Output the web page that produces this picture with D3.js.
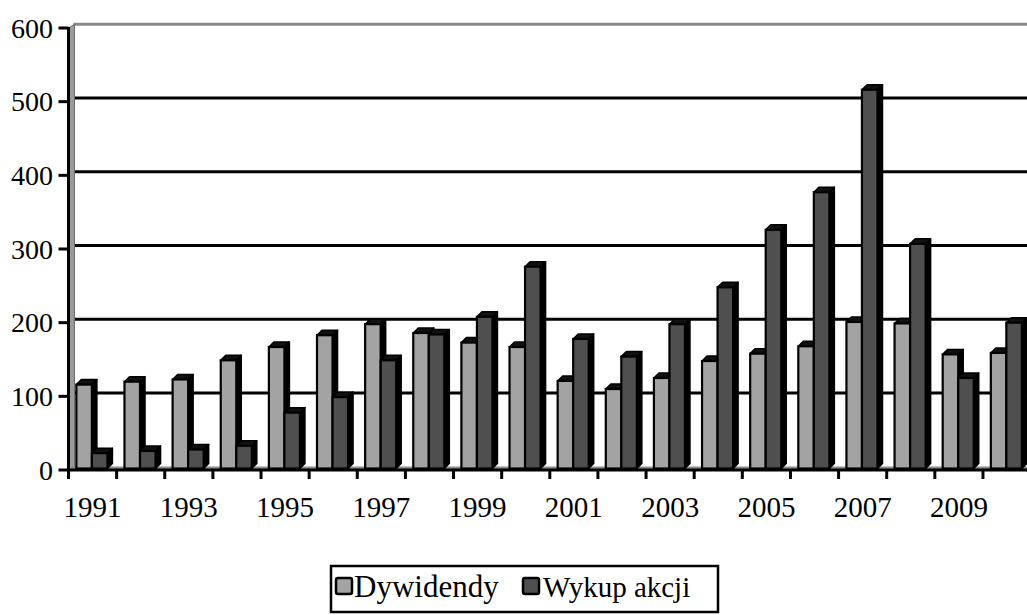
<!DOCTYPE html>
<html>
<head>
<meta charset="utf-8">
<script src="https://cdn.jsdelivr.net/npm/d3@7"></script>
<style>
  html, body { margin: 0; padding: 0; background: #fff; }
  svg { display: block; }
  text { font-family: "Liberation Serif", "Times New Roman", serif; fill: #000; }
</style>
</head>
<body>
<svg id="chart" width="1027" height="615"></svg>
<script>
// Years on the category axis
const years = ["1991","1992","1993","1994","1995","1996","1997","1998","1999","2000",
               "2001","2002","2003","2004","2005","2006","2007","2008","2009","2010"];
// Dividends paid out
const dywidendy = [118,122,125,151,169,185,200,188,175,169,
                   123,112,127,150,160,170,203,201,159,161];
// Share buybacks
const wykupAkcji = [25,28,30,35,80,101,151,186,210,278,
                    180,156,200,250,328,379,518,309,127,202];
// Value-axis ticks
const yTicks = [0,100,200,300,400,500,600];
// Series names and fills
const seriesNames = ["Dywidendy","Wykup akcji"];
const seriesColors = ["#a3a3a3","#4f4f4f"];

const svg = d3.select("#chart");

// Geometry of the pseudo-3D plot
const axisX = 68.5;          // front value axis
const wallDepth = 6;         // width of the left side wall
const step = 48.13;          // width of one year slot
const depthX = 5, depthY = 5;// depth of each column
const floorFront = 470, floorBack = 466.6;
const barBottom = 468.5;

const x = d3.scaleBand().domain(years)
  .range([axisX, axisX + step * years.length]).padding(0);
const xs = d3.scaleBand().domain(seriesNames)
  .range([0, x.bandwidth()]).paddingInner(0).paddingOuter(0.55).align(0.46);

// Front scale (axis ticks) and back-wall scale (gridlines, column tops)
const yFront = d3.scaleLinear().domain([0, 600]).range([floorFront, 28]);
const yBack = d3.scaleLinear().domain([0, 600]).range([floorBack, 24.3]);

// Back wall gridlines
svg.append("g").selectAll("line")
  .data(yTicks.filter(d => d > 0 && d < 600))
  .join("line")
  .attr("x1", axisX + wallDepth).attr("x2", 1040)
  .attr("y1", d => yBack(d)).attr("y2", d => yBack(d))
  .attr("stroke", "#000").attr("stroke-width", 3);

// Top edge of the back wall
svg.append("line")
  .attr("x1", axisX + wallDepth - 1).attr("x2", 1040)
  .attr("y1", yBack(600)).attr("y2", yBack(600))
  .attr("stroke", "#8a8a8a").attr("stroke-width", 3);

// Left side wall
svg.append("path")
  .attr("d", `M${axisX},${yFront(600)} L${axisX + wallDepth},${yBack(600)} L${axisX + wallDepth},${floorBack} L${axisX},${floorFront} Z`)
  .attr("fill", "#9a9a9a").attr("stroke", "#6a6a6a").attr("stroke-width", 1);

// Floor
svg.append("path")
  .attr("d", `M${axisX},${floorFront} L${axisX + wallDepth},${floorBack} L1040,${floorBack} L1040,${floorFront} Z`)
  .attr("fill", "#8c8c8c");

// Columns: front face, right side face, top face
const rows = years.map((yr, i) => ({ yr, vals: [dywidendy[i], wykupAkcji[i]] }));
const bars = svg.append("g");
rows.forEach(r => {
  r.vals.forEach((v, s) => {
    const x0 = x(r.yr) + xs(seriesNames[s]);
    const w = xs.bandwidth();
    const top = yBack(v) + depthY;
    const g = bars.append("g");
    g.append("path") // side
      .attr("d", `M${x0 + w},${top} L${x0 + w + depthX},${top - depthY} L${x0 + w + depthX},${barBottom - depthY} L${x0 + w},${barBottom} Z`)
      .attr("fill", "#000").attr("stroke", "#000").attr("stroke-width", 1.5).attr("stroke-linejoin", "round");
    g.append("path") // top
      .attr("d", `M${x0},${top} L${x0 + depthX},${top - depthY} L${x0 + w + depthX},${top - depthY} L${x0 + w},${top} Z`)
      .attr("fill", "#111").attr("stroke", "#000").attr("stroke-width", 1.5).attr("stroke-linejoin", "round");
    g.append("rect") // front
      .attr("x", x0).attr("y", top)
      .attr("width", w).attr("height", barBottom - top)
      .attr("fill", seriesColors[s]).attr("stroke", "#000").attr("stroke-width", 2.2);
  });
});

// Category axis
const xAxisG = svg.append("g");
xAxisG.append("line")
  .attr("x1", axisX).attr("x2", 1040)
  .attr("y1", floorFront).attr("y2", floorFront)
  .attr("stroke", "#000").attr("stroke-width", 3);
xAxisG.selectAll("line.tick")
  .data(years)
  .join("line").attr("class", "tick")
  .attr("x1", d => x(d)).attr("x2", d => x(d))
  .attr("y1", floorFront).attr("y2", floorFront + 9)
  .attr("stroke", "#000").attr("stroke-width", 3);
xAxisG.selectAll("text")
  .data(years.filter((d, i) => i % 2 === 0))
  .join("text")
  .attr("x", d => x(d) + x.bandwidth() / 2)
  .attr("y", 517)
  .attr("text-anchor", "middle")
  .attr("font-size", 29)
  .text(d => d);

// Value axis
const yAxisG = svg.append("g");
yAxisG.append("line")
  .attr("x1", axisX).attr("x2", axisX)
  .attr("y1", yFront(600) - 1).attr("y2", floorFront + 9)
  .attr("stroke", "#000").attr("stroke-width", 3);
yAxisG.selectAll("line.tick")
  .data(yTicks)
  .join("line").attr("class", "tick")
  .attr("x1", axisX - 10).attr("x2", axisX)
  .attr("y1", d => yFront(d)).attr("y2", d => yFront(d))
  .attr("stroke", "#000").attr("stroke-width", 3);
yAxisG.selectAll("text")
  .data(yTicks)
  .join("text")
  .attr("x", 53)
  .attr("y", d => yFront(d) + 9.5)
  .attr("text-anchor", "end")
  .attr("font-size", 28)
  .text(d => d);

// Legend
const legend = svg.append("g");
legend.append("rect")
  .attr("x", 331).attr("y", 566).attr("width", 387).attr("height", 46)
  .attr("fill", "#fff").attr("stroke", "#000").attr("stroke-width", 2.5);
const legendItems = [
  { name: seriesNames[0], color: seriesColors[0], box: 336, text: 354, size: 31 },
  { name: seriesNames[1], color: seriesColors[1], box: 523, text: 543, size: 29 }
];
legendItems.forEach(it => {
  legend.append("rect")
    .attr("x", it.box).attr("y", 578).attr("width", 16).attr("height", 16)
    .attr("rx", 2)
    .attr("fill", it.color).attr("stroke", "#000").attr("stroke-width", 2.5);
  legend.append("text")
    .attr("x", it.text).attr("y", 597)
    .attr("font-size", it.size)
    .text(it.name);
});
</script>
</body>
</html>
